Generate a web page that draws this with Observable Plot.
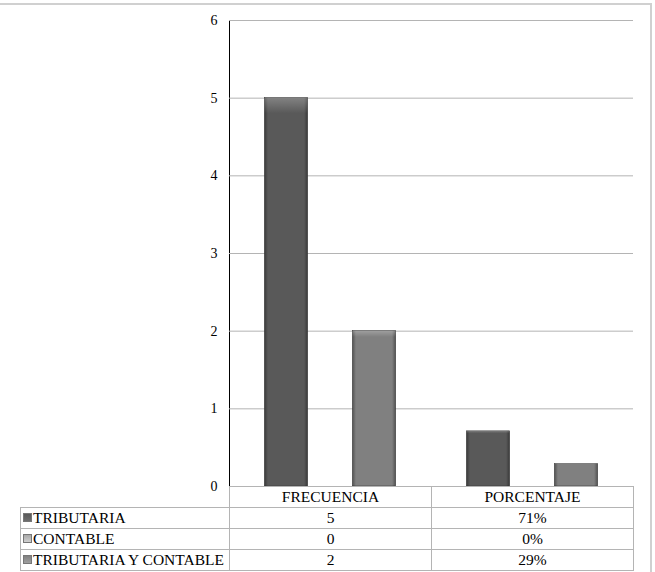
<!DOCTYPE html>
<html>
<head>
<meta charset="utf-8">
<script src="https://cdn.jsdelivr.net/npm/d3@7"></script>
<script src="https://cdn.jsdelivr.net/npm/@observablehq/plot@0.6"></script>
<style>
  html, body { margin: 0; padding: 0; background: #fff; }
  #wrap { position: relative; width: 655px; height: 572px; overflow: hidden; font-family: "Liberation Serif", "Times New Roman", Times, serif; }
  #frameTop { position: absolute; left: 0; top: 3px; width: 651px; height: 2px; background: #d0d0d0; }
  #frameRight { position: absolute; left: 650px; top: 3px; width: 2px; height: 572px; background: #d0d0d0; }
  #chart { position: absolute; left: 0; top: 0; }
  table { position: absolute; left: 20px; top: 486px; border-collapse: collapse; font-family: "Liberation Serif", "Times New Roman", Times, serif; font-size: 15.5px; color: #000; table-layout: fixed; }
  td { font-family: "Liberation Serif", "Times New Roman", Times, serif; border: 1px solid #b4b4b4; height: 20px; padding: 0; text-align: center; white-space: nowrap; line-height: 20px; overflow: hidden; }
  td.lab { text-align: left; padding-left: 2px; }
  td.blank { border: none; border-bottom: 1px solid #b4b4b4; }
  .key { display: inline-block; width: 7px; height: 7px; margin-right: 1px; vertical-align: 1px; border: 0.5px solid #777; }
</style>
</head>
<body>
<div id="wrap">
  <div id="frameTop"></div>
  <div id="frameRight"></div>
  <div id="chart"></div>
</div>
<script>
const categories = ["FRECUENCIA", "PORCENTAJE"];
const series = ["TRIBUTARIA", "CONTABLE", "TRIBUTARIA Y CONTABLE"];
const frecuencia = [5, 0, 2];
const porcentaje = [0.71, 0, 0.29];
const porcentajeLabels = ["71%", "0%", "29%"];
const yTicks = [0, 1, 2, 3, 4, 5, 6];
const seriesColors = ["#595959", "#a8a8a8", "#808080"];

const data = [];
series.forEach((s, i) => {
  data.push({category: categories[0], series: s, value: frecuencia[i]});
  data.push({category: categories[1], series: s, value: porcentaje[i]});
});
const barData = data.filter(d => d.value > 0);

const plot = Plot.plot({
  width: 655,
  height: 500,
  marginLeft: 229,
  marginRight: 22,
  marginTop: 20,
  marginBottom: 14,
  style: {fontFamily: "'Liberation Serif', 'Times New Roman', Times, serif", fontSize: "14px", color: "#000", background: "transparent"},
  fx: {domain: categories, paddingInner: 0, paddingOuter: 0, axis: null},
  x: {domain: series, paddingInner: 0, paddingOuter: 0.745, axis: null},
  y: {domain: [0, 6], ticks: yTicks, tickFormat: d3.format("d"), tickSize: 0, tickPadding: 12, label: null, line: true},
  color: {domain: series, range: seriesColors},
  marks: [
    Plot.ruleY(yTicks, {y: d => d, stroke: "#b4b4b4", strokeWidth: 1}),
    Plot.barY(barData, {fx: "category", x: "series", y: "value", fill: "series", insetLeft: 0.5, insetRight: 0.5, stroke: "#3a3a3a", strokeWidth: 0.6}),
    Plot.barY(barData, {fx: "category", x: "series", y: "value", fill: "url(#bevelH)", insetLeft: 0.5, insetRight: 0.5}),
    Plot.barY(barData, {fx: "category", x: "series", y: "value", fill: "url(#bevelV)", insetLeft: 0.5, insetRight: 0.5})
  ]
});

const svg = d3.select(plot);
const defs = svg.insert("defs", ":first-child");
const gh = defs.append("linearGradient").attr("id", "bevelH").attr("x1", 0).attr("x2", 1).attr("y1", 0).attr("y2", 0);
gh.append("stop").attr("offset", "0%").attr("stop-color", "#000").attr("stop-opacity", 0.35);
gh.append("stop").attr("offset", "8%").attr("stop-color", "#000").attr("stop-opacity", 0.0);
gh.append("stop").attr("offset", "92%").attr("stop-color", "#000").attr("stop-opacity", 0.0);
gh.append("stop").attr("offset", "100%").attr("stop-color", "#000").attr("stop-opacity", 0.35);
const gv = defs.append("linearGradient").attr("id", "bevelV").attr("x1", 0).attr("x2", 0).attr("y1", 0).attr("y2", 1);
gv.append("stop").attr("offset", "0%").attr("stop-color", "#fff").attr("stop-opacity", 0.25);
gv.append("stop").attr("offset", "4%").attr("stop-color", "#fff").attr("stop-opacity", 0.0);
gv.append("stop").attr("offset", "100%").attr("stop-color", "#fff").attr("stop-opacity", 0.0);
svg.selectAll("[aria-label='y-axis line']").attr("stroke", "#a0a0a0");
svg.selectAll("[aria-label='y-axis tick label']").attr("fill", "#000");

document.getElementById("chart").appendChild(plot);

// data table below the plot
const table = document.createElement("table");
const cg = document.createElement("colgroup");
[209, 202, 202].forEach(w => { const c = document.createElement("col"); c.style.width = w + "px"; cg.appendChild(c); });
table.appendChild(cg);
const head = document.createElement("tr");
const blank = document.createElement("td"); blank.className = "blank"; head.appendChild(blank);
categories.forEach(c => { const td = document.createElement("td"); td.textContent = c; head.appendChild(td); });
table.appendChild(head);
series.forEach((s, i) => {
  const tr = document.createElement("tr");
  const lab = document.createElement("td"); lab.className = "lab";
  const key = document.createElement("span"); key.className = "key";
  key.style.background = `linear-gradient(${seriesColors[i]}, ${d3.color(seriesColors[i]).brighter(0.6)})`;
  lab.appendChild(key);
  lab.appendChild(document.createTextNode(s));
  tr.appendChild(lab);
  const a = document.createElement("td"); a.textContent = String(frecuencia[i]); tr.appendChild(a);
  const b = document.createElement("td"); b.textContent = porcentajeLabels[i]; tr.appendChild(b);
  table.appendChild(tr);
});
document.getElementById("wrap").appendChild(table);
</script>
</body>
</html>
